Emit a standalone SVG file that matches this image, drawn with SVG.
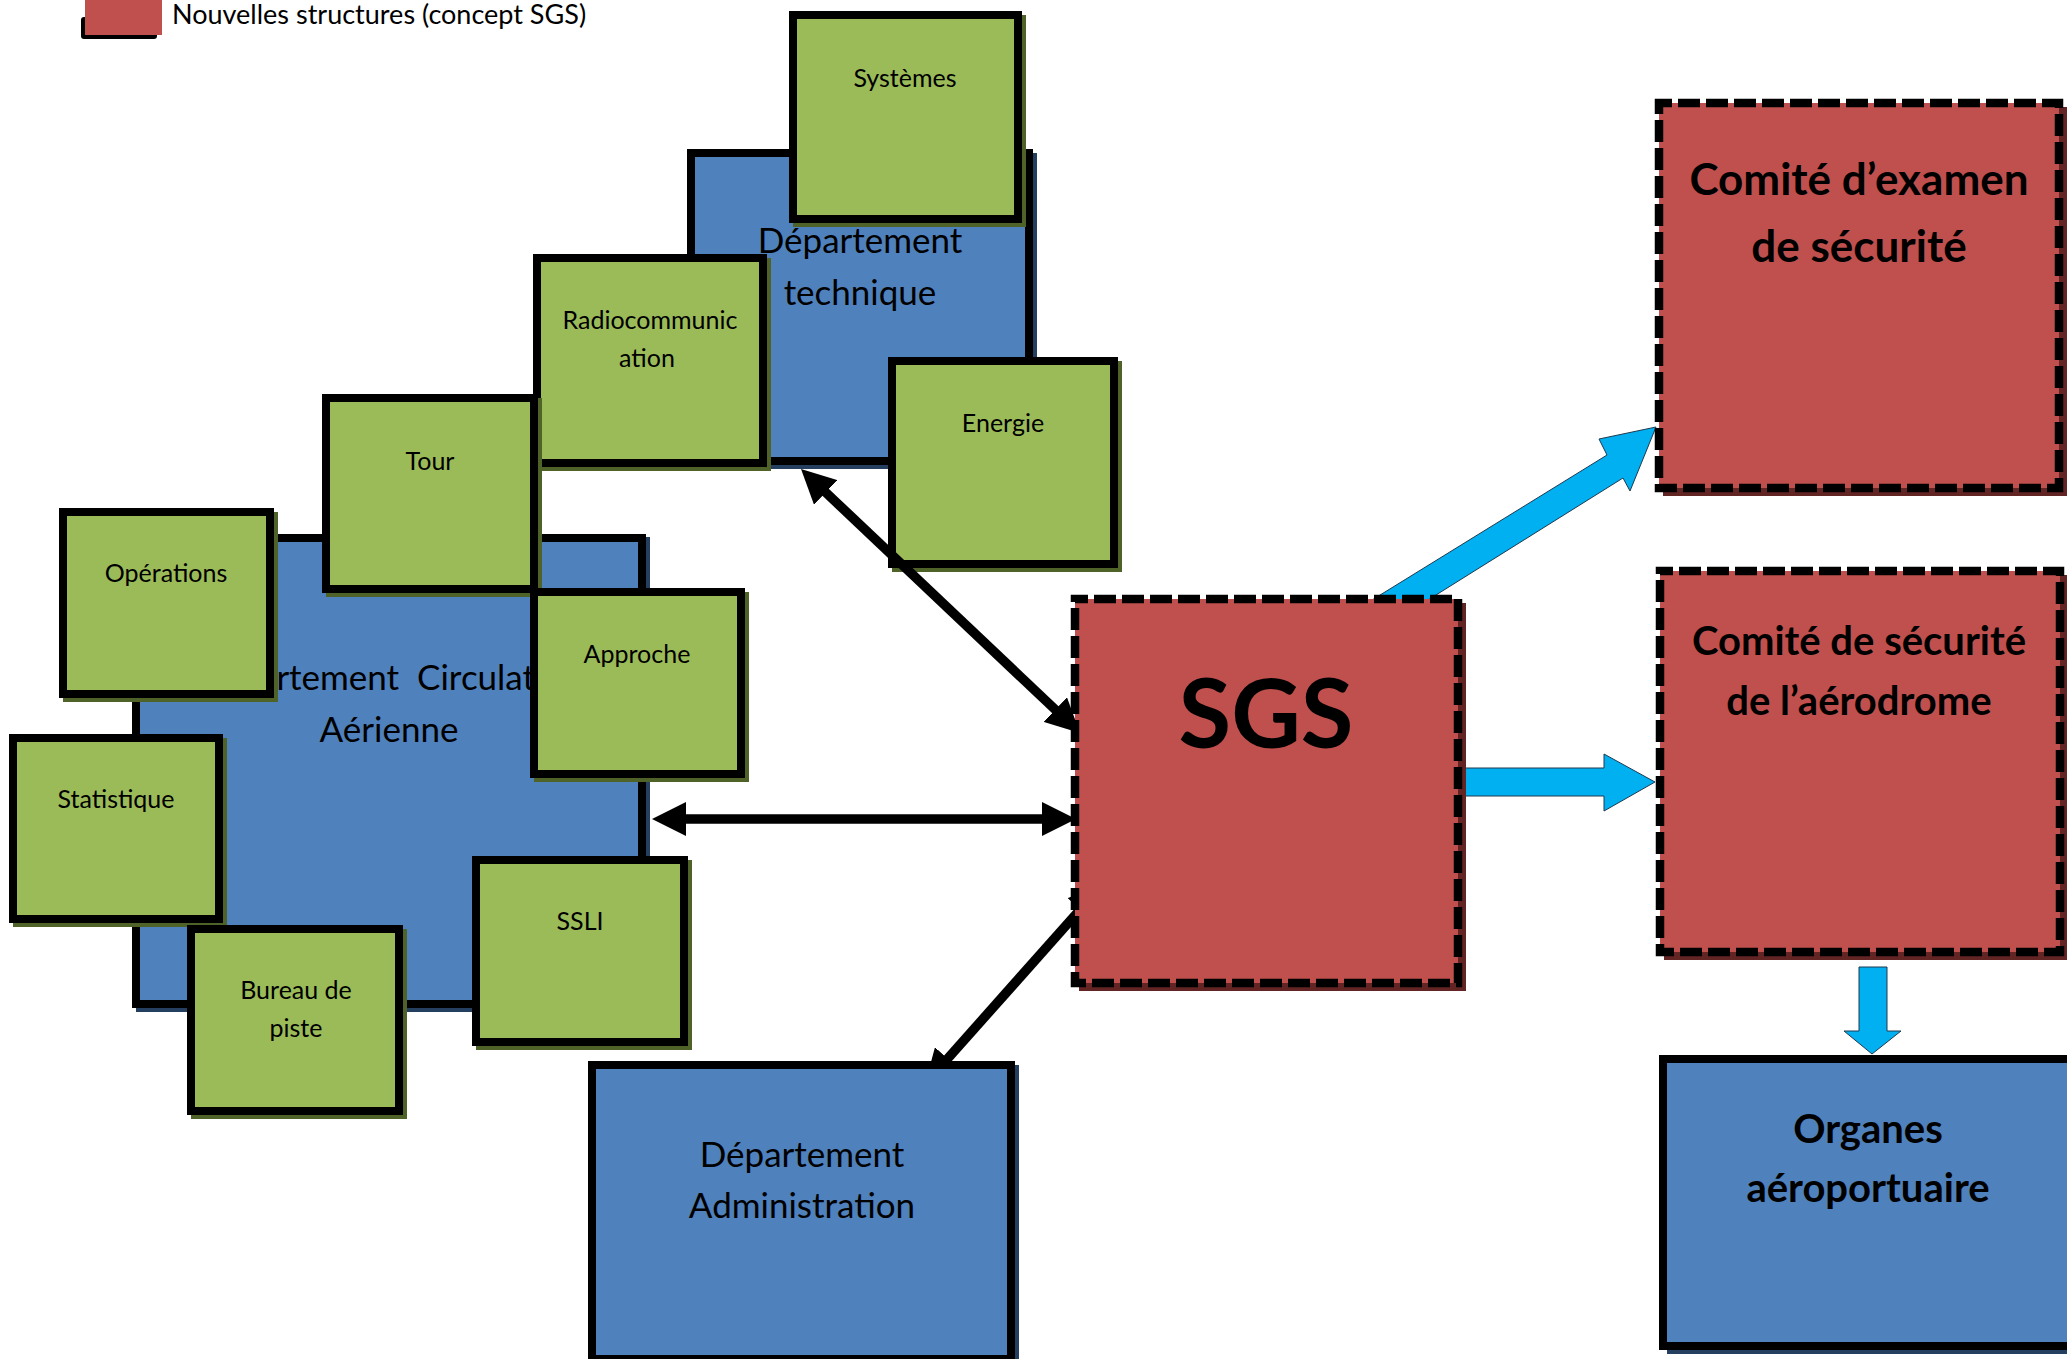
<svg xmlns="http://www.w3.org/2000/svg" width="2067" height="1359" viewBox="0 0 2067 1359">
  <style>
    text { font-family: Lato, "Liberation Sans", sans-serif; fill: #000; }
    .lbl { font-size: 25px; text-anchor: middle; }
    .dept { font-size: 35px; text-anchor: middle; }
    .hd { font-size: 40px; font-weight: bold; text-anchor: middle; }
    .leg { font-size: 27px; }
    .blue { fill: #4F81BD; stroke: #000; stroke-width: 8; }
    .green { fill: #9BBB59; stroke: #000; stroke-width: 8; }
    .red { fill: #C0504D; stroke: #000; stroke-width: 8.5; stroke-dasharray: 22 6; stroke-dashoffset: 9; }
    .sh-b { fill: #243F60; }
    .sh-g { fill: #4F6228; }
    .sh-r { fill: #632523; }
    .link { fill: none; stroke: #000; stroke-width: 9.5; marker-start: url(#head); marker-end: url(#head); }
    .flow { fill: #00B0F0; stroke: #1F3A50; stroke-width: 1; }
  </style>
  <defs>
    <marker id="head" markerUnits="userSpaceOnUse" markerWidth="34" markerHeight="34" viewBox="0 0 34 34" refX="4" refY="17" orient="auto-start-reverse">
      <path d="M0,0 L34,17 L0,34 Z" fill="#000"/>
    </marker>
  </defs>
  <rect width="2067" height="1359" fill="#fff"/>

  <!-- legend -->
  <g id="legend">
    <rect x="81" y="17" width="76" height="22" rx="3" fill="#000"/>
    <rect x="85" y="-5" width="77" height="40" fill="#C0504D"/>
    <text class="leg" x="172" y="24">Nouvelles structures (concept SGS)</text>
  </g>

  <!-- departments -->
  <g id="dept-circulation">
    <rect class="sh-b" x="136" y="537" width="514" height="475"/>
    <rect class="blue" x="136" y="538" width="506" height="466"/>
    <text class="dept" x="389" y="690" xml:space="preserve">Département  Circulation</text>
    <text class="dept" x="389" y="742">Aérienne</text>
  </g>
  <g id="dept-technique">
    <rect class="sh-b" x="691" y="153" width="346" height="316"/>
    <rect class="blue" x="691" y="153" width="338" height="308"/>
    <text class="dept" x="860" y="253">Département</text>
    <text class="dept" x="860" y="305">technique</text>
  </g>

  <!-- services -->
  <g id="systemes">
    <rect class="sh-g" x="793" y="15" width="233" height="212"/>
    <rect class="green" x="793" y="15" width="225" height="204"/>
    <text class="lbl" x="905" y="87">Systèmes</text>
  </g>
  <g id="radiocommunication">
    <rect class="sh-g" x="537" y="258" width="234" height="213"/>
    <rect class="green" x="537" y="258" width="226" height="205"/>
    <text class="lbl" x="650" y="329">Radiocommunic</text>
    <text class="lbl" x="647" y="367">ation</text>
  </g>
  <g id="energie">
    <rect class="sh-g" x="892" y="361" width="230" height="211"/>
    <rect class="green" x="892" y="361" width="222" height="203"/>
    <text class="lbl" x="1003" y="432">Energie</text>
  </g>
  <g id="operations">
    <rect class="sh-g" x="63" y="512" width="215" height="190"/>
    <rect class="green" x="63" y="512" width="207" height="182"/>
    <text class="lbl" x="166" y="582">Opérations</text>
  </g>
  <g id="tour">
    <rect class="sh-g" x="326" y="398" width="216" height="199"/>
    <rect class="green" x="326" y="398" width="208" height="191"/>
    <text class="lbl" x="430" y="470">Tour</text>
  </g>
  <g id="approche">
    <rect class="sh-g" x="534" y="592" width="215" height="190"/>
    <rect class="green" x="534" y="592" width="207" height="182"/>
    <text class="lbl" x="637" y="663">Approche</text>
  </g>
  <g id="statistique">
    <rect class="sh-g" x="13" y="738" width="214" height="189"/>
    <rect class="green" x="13" y="738" width="206" height="181"/>
    <text class="lbl" x="116" y="808">Statistique</text>
  </g>
  <g id="bureau-piste">
    <rect class="sh-g" x="191" y="929" width="216" height="190"/>
    <rect class="green" x="191" y="929" width="208" height="182"/>
    <text class="lbl" x="296" y="999">Bureau de</text>
    <text class="lbl" x="296" y="1037">piste</text>
  </g>
  <g id="ssli">
    <rect class="sh-g" x="476" y="860" width="216" height="190"/>
    <rect class="green" x="476" y="860" width="208" height="182"/>
    <text class="lbl" x="580" y="930">SSLI</text>
  </g>

  <!-- connectors -->
  <g id="connectors">
    <line class="link" x1="822.8" y1="489.6" x2="1058.2" y2="712.4"/>
    <line class="link" x1="682" y1="819" x2="1046" y2="819"/>
    <line class="link" x1="1083" y1="906.4" x2="945" y2="1061.6"/>
    <polygon class="flow" points="1372,600 1607,455 1599,439 1656,427 1630,491 1623,478 1428,600"/>
    <polygon class="flow" points="1462,768 1604,768 1604,754 1655,782 1604,811 1604,796 1462,796"/>
    <polygon class="flow" points="1859,967 1887,967 1887,1031 1901,1031 1872,1054 1844,1031 1859,1031"/>
  </g>

  <g id="dept-administration">
    <rect class="sh-b" x="592" y="1065" width="427" height="302"/>
    <rect class="blue" x="592" y="1065" width="419" height="294"/>
    <text class="dept" x="802" y="1167">Département</text>
    <text class="dept" x="802" y="1218">Administration</text>
  </g>

  <!-- SMS structures -->
  <g id="sgs">
    <rect class="sh-r" x="1079" y="603" width="387" height="388"/>
    <rect class="red" x="1075" y="599" width="383" height="384"/>
    <text x="1266" y="748" font-size="96" font-weight="bold" text-anchor="middle">SGS</text>
  </g>
  <g id="comite-examen">
    <rect class="sh-r" x="1663" y="107" width="404" height="389"/>
    <rect class="red" x="1659" y="103" width="400" height="385"/>
    <text class="hd" x="1859" y="195" style="font-size:44px">Comité d’examen</text>
    <text class="hd" x="1859" y="262" style="font-size:44px">de sécurité</text>
  </g>
  <g id="comite-aerodrome">
    <rect class="sh-r" x="1664" y="575" width="404" height="385"/>
    <rect class="red" x="1660" y="571" width="400" height="381"/>
    <text class="hd" x="1859" y="655">Comité de sécurité</text>
    <text class="hd" x="1859" y="715">de l’aérodrome</text>
  </g>
  <g id="organes">
    <rect class="sh-b" x="1667" y="1063" width="420" height="291"/>
    <rect class="blue" x="1663" y="1059" width="420" height="287"/>
    <text class="hd" x="1868" y="1143">Organes</text>
    <text class="hd" x="1868" y="1202">aéroportuaire</text>
  </g>
</svg>
